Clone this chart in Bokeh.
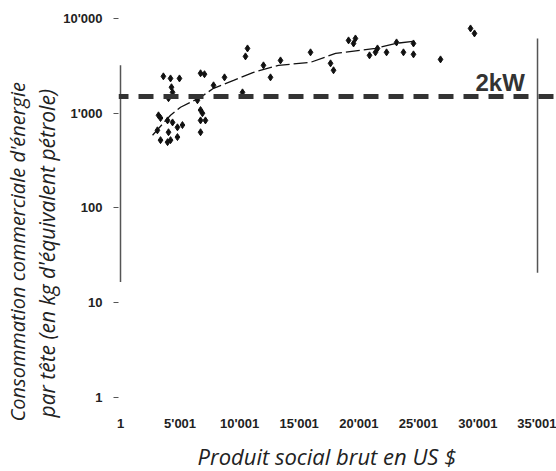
from bokeh.plotting import figure
from bokeh.models import Range1d, FixedTicker, Label, Span, ColumnDataSource, Title
from bokeh.embed import file_html
from bokeh.resources import INLINE

# ---- data ----
gdp = [3600, 4200, 4950, 4280, 4370, 4030, 3190, 3360, 3100, 3950, 4370, 4030,
       4780, 5200, 4780, 3360, 3950, 4200, 6720, 7050, 6460, 6720, 6880, 6720,
       7130, 6720, 7810, 8730, 10240, 10490, 10660, 12000, 12590, 13430, 15950,
       17630, 17880, 19140, 19720, 19560, 20900, 21400, 21570, 22330, 23170,
       23750, 24590, 24590, 26860, 29380, 29710]
energy = [2450, 2330, 2330, 1880, 1660, 1440, 950, 890, 660, 840, 800, 630,
          710, 750, 560, 520, 495, 520, 2640, 2580, 1370, 1080, 1000, 840,
          840, 630, 1970, 2390, 1660, 3980, 4830, 3200, 2390, 3610, 4390,
          3360, 2840, 5870, 6150, 5450, 4080, 4390, 4830, 4390, 5590,
          4390, 5450, 4180, 3700, 7850, 6950]

trend_gdp = [2690, 4200, 5040, 6720, 7810, 9490, 11160, 13260, 15950, 18050,
             21400, 23080, 24590]
trend_energy = [586, 953, 1157, 1474, 1833, 2223, 2701, 3200, 3443, 4283,
                4833, 5454, 5729]

threshold_2kw = 1500
threshold_label = "2kW"

x_ticks = [1, 5001, 10001, 15001, 20001, 25001, 30001, 35001]
x_tick_labels = ["1", "5'001", "10'001", "15'001", "20'001", "25'001", "30'001", "35'001"]
y_ticks = [1, 10, 100, 1000, 10000]
y_tick_labels = ["1", "10", "100", "1'000", "10'000"]

left_rule_x, left_rule_y0, left_rule_y1 = 1, 16.6, 3200
right_rule_x, right_rule_y0, right_rule_y1 = 35001, 20.7, 6150

x_title = "Produit social brut en US $"
y_title_1 = "Consommation commerciale d'énergie"
y_title_2 = "par tête (en kg d'équivalent pétrole)"

TICK_FONT = "Liberation Sans"
TITLE_FONT = "Open Sans"
INK = "#222222"

p = figure(width=556, height=470,
           x_range=Range1d(-167, 36594),
           y_range=Range1d(0.844, 12134),
           y_axis_type="log",
           output_backend="svg", toolbar_location=None,
           min_border_left=118, min_border_right=0,
           min_border_top=10, min_border_bottom=65)
p.outline_line_color = None
p.grid.visible = False
p.background_fill_color = "white"
p.border_fill_color = "white"

# axes
p.xaxis.ticker = FixedTicker(ticks=x_ticks)
p.xaxis.major_label_overrides = {t: l for t, l in zip(x_ticks, x_tick_labels)}
p.xaxis.axis_line_color = None
p.xaxis.major_tick_line_color = None
p.xaxis.minor_tick_line_color = None
p.xaxis.major_tick_out = 0
p.xaxis.major_tick_in = 0
p.xaxis.major_label_standoff = 11
p.xaxis.axis_label = " "
p.xaxis.axis_label_text_font_size = "1px"
p.xaxis.axis_label_standoff = 1

p.yaxis.ticker = FixedTicker(ticks=y_ticks)
p.yaxis.major_label_overrides = {t: l for t, l in zip(y_ticks, y_tick_labels)}
p.yaxis.axis_line_color = None
p.yaxis.minor_tick_line_color = None
p.yaxis.major_tick_line_color = "#555555"
p.yaxis.major_tick_in = 0
p.yaxis.major_tick_out = 5
p.yaxis.major_label_standoff = 11

for ax in (p.xaxis, p.yaxis):
    ax.major_label_text_font = TICK_FONT
    ax.major_label_text_font_style = "bold"
    ax.major_label_text_font_size = "13px"
    ax.major_label_text_color = INK

# titles (side panels)
p.add_layout(Title(text=x_title, align="left", offset=79, vertical_align="bottom",
                   standoff=0, text_font=TITLE_FONT, text_font_style="italic",
                   text_font_size="22px", text_color=INK), "below")
p.add_layout(Title(text=y_title_2, align="left", offset=-13, vertical_align="bottom",
                   standoff=0, text_font=TITLE_FONT, text_font_style="italic",
                   text_font_size="21px", text_color=INK), "left")
p.add_layout(Title(text=y_title_1, align="left", offset=-17, vertical_align="bottom",
                   standoff=0, text_font=TITLE_FONT, text_font_style="italic",
                   text_font_size="20px", text_color=INK), "left")

# vertical rules
p.segment(x0=[left_rule_x], y0=[left_rule_y0], x1=[left_rule_x], y1=[left_rule_y1],
          line_color="#555555", line_width=1.5)
p.segment(x0=[right_rule_x], y0=[right_rule_y0], x1=[right_rule_x], y1=[right_rule_y1],
          line_color="#555555", line_width=1.5)

# 2 kW threshold
p.add_layout(Span(location=threshold_2kw, dimension="width", line_color="#333333",
                  line_width=5, line_dash="15 10", line_dash_offset=5))
p.add_layout(Label(x=29796, y=threshold_2kw, y_offset=14, text=threshold_label,
                   text_font="Liberation Sans", text_font_style="bold",
                   text_font_size="24px", text_color="#333333",
                   text_baseline="alphabetic", text_align="left"))

# trend
p.line(trend_gdp, trend_energy, line_color="#111111", line_width=1.3, line_dash="14 4")

# points
src = ColumnDataSource(dict(x=gdp, y=energy))
p.scatter("x", "y", source=src, marker="diamond", size=7,
          fill_color="#111111", line_color="#111111")

open("out.html", "w").write(file_html(p, INLINE))
